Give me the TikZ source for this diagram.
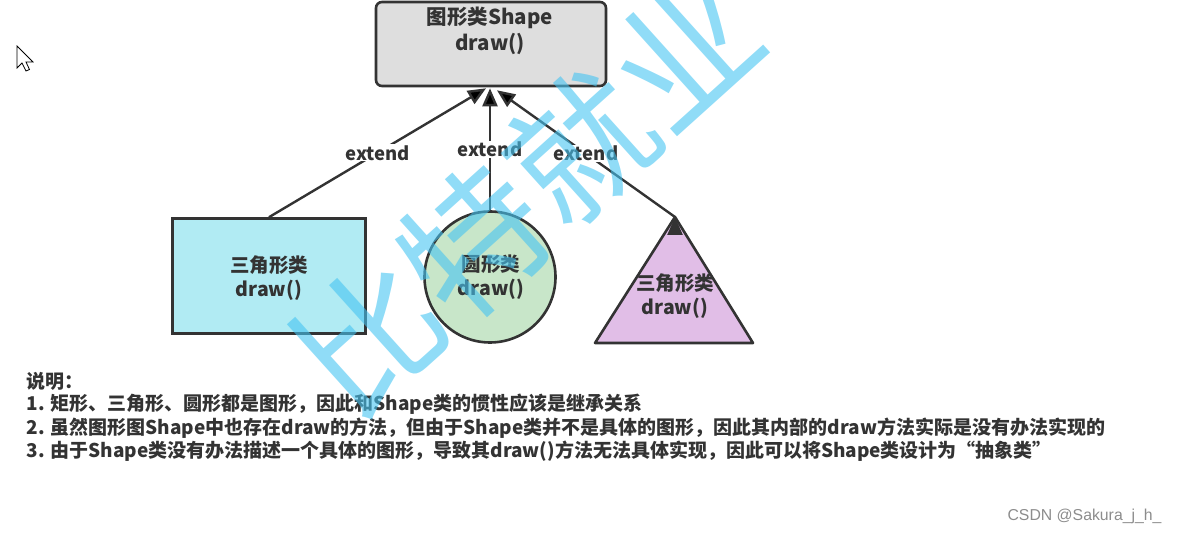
\documentclass[tikz,border=0pt]{standalone}
\usepackage{fontspec}
\setmainfont{Noto Sans CJK SC}
\newfontfamily\csdnfont{Liberation Sans}
\usepackage{tikz}
\usetikzlibrary{calc,shapes,positioning}
\usetikzlibrary{arrows.meta}
\tikzset{>={Triangle[width=15pt,length=18pt]}}
\definecolor{ink}{RGB}{51,51,51}
\definecolor{shapegray}{RGB}{222,222,222}
\definecolor{rectcyan}{RGB}{177,235,243}
\definecolor{circgreen}{RGB}{200,230,201}
\definecolor{tripurple}{RGB}{225,190,231}
\definecolor{mark}{RGB}{70,196,242}

\begin{document}
\begin{tikzpicture}[x=1pt,y=-1pt]
  \useasboundingbox (0,0) rectangle (1178,534);
  \tikzstyle{basenode} = [line width=2.6pt, draw=ink, fill=shapegray, rectangle, rounded corners=6pt, minimum width=230pt, minimum height=84pt]
  \tikzstyle{rnode} = [line width=2.6pt, draw=ink, fill=rectcyan, rectangle, inner sep=0pt, minimum width=193pt, minimum height=115pt]
  \tikzstyle{onode} = [line width=2.6pt, draw=ink, fill=circgreen, circle, inner sep=0pt, minimum size=131pt]
  \tikzstyle{bnode} = [align=center, text=ink, font=\fontsize{20.5}{26}\selectfont\bfseries]
  \tikzstyle{lnode} = [align=center, text=ink, font=\fontsize{19.5}{24}\selectfont\bfseries]
  \tikzstyle{enode} = [fill=white, inner sep=1pt, text=ink, font=\fontsize{18.5}{20}\selectfont\bfseries]
  \tikzstyle{tnode} = [anchor=west, text=ink, font=\fontsize{19}{23.5}\selectfont\bfseries]

  % base class
  \node[basenode] (shape) at (491,44) {};
  \node[bnode] at (490,31) {图形类Shape\\draw()};
  \coordinate (inL) at ($(shape.south)+(-5,1)$);
  \coordinate (inM) at ($(shape.south)+(-1,1)$);
  \coordinate (inR) at ($(shape.south)+(6,3)$);

  % sub classes
  \node[rnode] (rect) at (269,276) {};
  \node[lnode] at (269,278) {三角形类\\draw()};
  \node[onode] (circ) at (490,277) {};
  \node[lnode] at (491,277) {圆形类\\draw()};
  \draw[line width=2.6pt, draw=ink, fill=tripurple, line join=round]
    (675,217) coordinate (tri) -- (753,343) -- (595,343) -- cycle;
  \node[lnode] at (675,296) {三角形类\\draw()};

  \path[->, draw=ink, line width=2.4pt]
  (rect.north) edge node[enode] {extend} (inL)
  (circ.north) edge node[enode] {extend} (inM)
  (tri) edge node[enode] {extend} (inR)
  ;

  % notes
  \node[tnode] (n0) at (23,381) {说明：};
  \node[tnode] (n1) at (23,404.5) {1. 矩形、三角形、圆形都是图形，因此和Shape类的惯性应该是继承关系};
  \node[tnode] (n2) at (23,428) {2. 虽然图形图Shape中也存在draw的方法，但由于Shape类并不是具体的图形，因此其内部的draw方法实际是没有办法实现的};
  \node[tnode] (n3) at (23,451.5) {3. 由于Shape类没有办法描述一个具体的图形，导致其draw()方法无法具体实现，因此可以将Shape类设计为“抽象类”};

  \node[anchor=east, text=black!45, font=\csdnfont\fontsize{15.8}{18}\selectfont] (csdn) at (1165,516) {CSDN @Sakura\_j\_h\_};

  % cursor
  \draw[line width=0.8pt, fill=white, line join=miter]
    (17,46) -- (17,68) -- (22,63) -- (26,71) -- (29.5,69.5) -- (26,62) -- (33,62) -- cycle;

  % watermark
  \node[rotate=42, text=mark, opacity=0.6, font=\fontsize{142}{142}\selectfont] (wm) at (527,194) {比特就业};
\end{tikzpicture}
\end{document}
